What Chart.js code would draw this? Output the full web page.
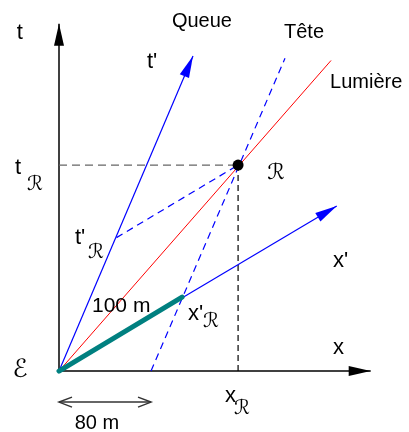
<!DOCTYPE html>
<html>
<head>
<meta charset="utf-8">
<script src="https://cdn.jsdelivr.net/npm/chart.js@4.4.0/dist/chart.umd.min.js"></script>
<style>
html, body { margin: 0; padding: 0; background: #fff; }
</style>
</head>
<body>
<canvas id="diagram" width="409" height="432"></canvas>
<script>
// spacetime diagram, x and ct both in metres, origin at event E
const origin = [0, 0];
const xAxisEnd = [271, 0];
const tAxisEnd = [0, 302];
const eventR = [155.7, 179.1];
const tPrimeEnd = [116.5, 274];
const xPrimeEnd = [241.5, 143.5];
const lightEnd = [236.5, 270];
const teteFoot = [80, 0];
const teteTop = [196.5, 272];
const tPrimeR = [50, 116];
const rodEnd = [107, 64.3];
const ruler = [[0, -27], [80, -27]];

const font = '"Liberation Sans", Arial, sans-serif';
const script = '"DejaVu Serif", "DejaVu Sans", serif';

// text labels [text, x, y, align, font]
const labels = [
    ['t', -34, 294, 'center', '22px ' + font],
    ['Queue', 124.3, 303.5, 'center', '20px ' + font],
    ["t'", 76.5, 268.7, 'left', '22px ' + font],
    ['Tête', 213, 294, 'center', '20px ' + font],
    ['Lumière', 235.7, 251.3, 'left', '20px ' + font],
    ['t', -35.7, 176.5, 'center', '22px ' + font],
    ['ℛ', -20.9, 161.7, 'center', 'italic 20px ' + script],
    ['ℛ', 188.7, 172.2, 'center', 'italic 22px ' + script],
    ["t'", 13.9, 115.7, 'left', '22px ' + font],
    ['ℛ', 32.2, 102.6, 'center', 'italic 20px ' + script],
    ["x'", 238.3, 95.7, 'left', '22px ' + font],
    ['100 m', 28.7, 56.5, 'left', '21px ' + font],
    ["x'", 112.2, 49.6, 'left', '22px ' + font],
    ['ℛ', 132.2, 42.6, 'center', 'italic 20px ' + script],
    ['x', 238.3, 20, 'left', '22px ' + font],
    ['ℰ', -33.9, 0.9, 'center', 'italic 25px ' + script],
    ['x', 144.3, -21.7, 'left', '22px ' + font],
    ['ℛ', 159.1, -33, 'center', 'italic 20px ' + script],
    ['80 m', 33, -45.2, 'center', '20px ' + font]
];

const pt = p => ({x: p[0], y: p[1]});

function line(points, color, width, extra) {
    return Object.assign({
        data: points.map(pt),
        showLine: true,
        borderColor: color,
        backgroundColor: color,
        borderWidth: width,
        pointRadius: 0,
        pointHoverRadius: 0,
        fill: false,
        tension: 0
    }, extra || {});
}

const datasets = [
    // event R (on top)
    {data: [pt(eventR)], pointRadius: 5.5, pointBackgroundColor: '#000', pointBorderWidth: 0, showLine: false},
    // the rod, 100 m in its own frame
    line([origin, rodEnd], '#008080', 5, {borderCapStyle: 'round'}),
    line([origin, lightEnd], '#ff0000', 1),
    line([origin, tPrimeEnd], '#0000ff', 1.2, {arrow: 'end'}),
    line([origin, xPrimeEnd], '#0000ff', 1.2, {arrow: 'end'}),
    line([teteFoot, teteTop], '#0000ff', 1.2, {borderDash: [7, 5]}),
    line([tPrimeR, eventR], '#0000ff', 1.2, {borderDash: [7, 5]}),
    line([[0, eventR[1]], eventR], '#666', 1.2, {borderDash: [8, 5]}),
    line([eventR, [eventR[0], 0]], '#000', 1.2, {borderDash: [6, 4]}),
    line([origin, xAxisEnd], '#000', 1.5, {arrow: 'end'}),
    line([origin, tAxisEnd], '#000', 1.5, {arrow: 'end'}),
    line(ruler, '#333', 1.5, {arrow: 'both', arrowOpen: true})
];

function head(ctx, from, to, open) {
    const a = Math.atan2(to.y - from.y, to.x - from.x);
    const len = open ? 13 : 22, half = 5;
    const bx = to.x - len * Math.cos(a), by = to.y - len * Math.sin(a);
    const px = -Math.sin(a) * half, py = Math.cos(a) * half;
    ctx.beginPath();
    ctx.moveTo(bx + px, by + py);
    ctx.lineTo(to.x, to.y);
    ctx.lineTo(bx - px, by - py);
    if (open) {
        ctx.stroke();
    } else {
        ctx.closePath();
        ctx.fill();
    }
}

const arrows = {
    id: 'arrows',
    afterDatasetsDraw(chart) {
        const ctx = chart.ctx;
        chart.data.datasets.forEach((ds, i) => {
            if (!ds.arrow) return;
            const pts = chart.getDatasetMeta(i).data;
            const a = pts[0], b = pts[pts.length - 1];
            ctx.save();
            ctx.fillStyle = ds.borderColor;
            ctx.strokeStyle = ds.borderColor;
            ctx.lineWidth = ds.borderWidth;
            ctx.setLineDash([]);
            head(ctx, a, b, ds.arrowOpen);
            if (ds.arrow === 'both') head(ctx, b, a, ds.arrowOpen);
            ctx.restore();
        });
    },
    afterDraw(chart) {
        const ctx = chart.ctx;
        const sx = chart.scales.x, sy = chart.scales.y;
        ctx.save();
        ctx.fillStyle = '#000';
        ctx.textBaseline = 'middle';
        labels.forEach(l => {
            ctx.font = l[4];
            ctx.textAlign = l[3];
            ctx.fillText(l[0], sx.getPixelForValue(l[1]), sy.getPixelForValue(l[2]));
        });
        ctx.restore();
    }
};

new Chart(document.getElementById('diagram').getContext('2d'), {
    type: 'scatter',
    data: {datasets: datasets},
    options: {
        responsive: false,
        animation: false,
        events: [],
        layout: {padding: 0, autoPadding: false},
        scales: {
            x: {type: 'linear', display: false, min: -51.3, max: 304.3},
            y: {type: 'linear', display: false, min: -53, max: 322.6}
        },
        plugins: {
            legend: {display: false},
            tooltip: {enabled: false}
        }
    },
    plugins: [arrows]
});
</script>
</body>
</html>
